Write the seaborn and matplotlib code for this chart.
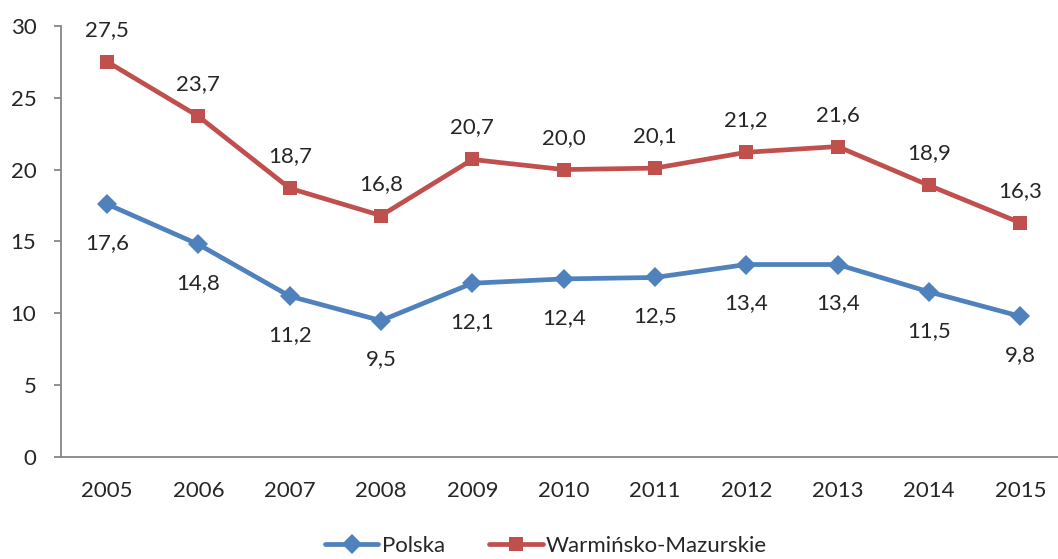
import matplotlib.pyplot as plt
import numpy as np
import pandas as pd
import seaborn as sns

years = ["2005", "2006", "2007", "2008", "2009", "2010",
         "2011", "2012", "2013", "2014", "2015"]
polska = [17.6, 14.8, 11.2, 9.5, 12.1, 12.4, 12.5, 13.4, 13.4, 11.5, 9.8]
warm_maz = [27.5, 23.7, 18.7, 16.8, 20.7, 20.0, 20.1, 21.2, 21.6, 18.9, 16.3]

sns.set_theme(style="white")
plt.rcParams["font.family"] = ["Lato", "DejaVu Sans"]

FS = 16
GRAY = "#868686"
BLUE = "#4F81BD"
RED = "#C0504D"

pos = np.arange(len(years))
df = pd.DataFrame({"pos": np.concatenate([pos, pos]),
                   "val": polska + warm_maz,
                   "serie": ["Polska"] * len(pos) + ["Warmińsko-Mazurskie"] * len(pos)})

fig = plt.figure(figsize=(10.58, 5.59), dpi=100)
# plot area placed like the Excel original (right side runs off the canvas)
ax = fig.add_axes([61.4 / 1058, 101.7 / 559, 1004.6 / 1058, 431.6 / 559])

sns.lineplot(data=df, x="pos", y="val", hue="serie", style="serie",
             palette=[BLUE, RED], markers=["D", "s"], dashes=False,
             linewidth=3.4, markersize=10.5, markeredgewidth=0, ax=ax)

# data labels
for x, v in zip(pos, polska):
    ax.annotate(f"{v:.1f}".replace(".", ","), (x, v), xytext=(0, -28),
                textcoords="offset points", ha="center", va="center", fontsize=FS)
for x, v in zip(pos, warm_maz):
    ax.annotate(f"{v:.1f}".replace(".", ","), (x, v), xytext=(0, 23),
                textcoords="offset points", ha="center", va="center", fontsize=FS)

ax.set_xlim(-0.5, len(years) - 0.5)
ax.set_ylim(0, 30)
ax.set_yticks(range(0, 31, 5))
ax.set_yticklabels([str(t) for t in range(0, 31, 5)], fontsize=FS)
ax.set_xticks(pos)
ax.set_xticklabels(years, fontsize=FS)
ax.set_xticks(np.arange(-0.5, len(years), 1.0), minor=True)
ax.tick_params(axis="x", which="major", length=0, pad=17)
ax.tick_params(axis="x", which="minor", length=5, width=1.3, color=GRAY, direction="out")
ax.tick_params(axis="y", length=5, width=1.3, color=GRAY, direction="out", pad=13, left=True)
ax.set_xlabel("")
ax.set_ylabel("")
for side in ["top", "right"]:
    ax.spines[side].set_visible(False)
for side in ["left", "bottom"]:
    ax.spines[side].set_color(GRAY)
    ax.spines[side].set_linewidth(1.3)
ax.grid(False)

handles, labels = ax.get_legend_handles_labels()
ax.legend(handles, labels, loc="center", bbox_to_anchor=(546 / 1058, 1 - 546 / 559),
          bbox_transform=fig.transFigure, ncol=2, frameon=False, fontsize=FS,
          handlelength=2.4, handletextpad=0.15, columnspacing=2.0)

fig.savefig("out.png", dpi=100)
